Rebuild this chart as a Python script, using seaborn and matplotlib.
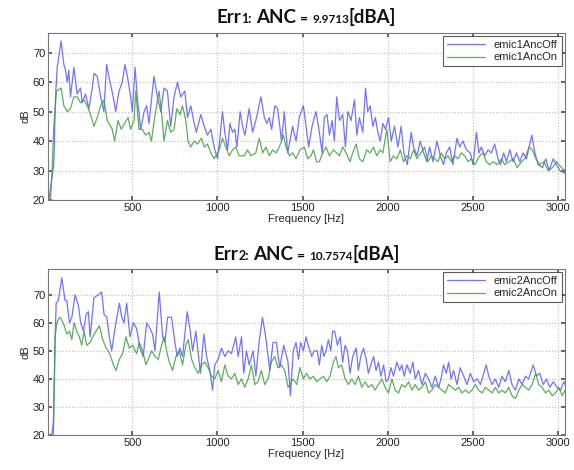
import matplotlib
matplotlib.use("Agg")
from matplotlib import pyplot as plt
import numpy as np
import seaborn as sns
import pandas as pd

# (frequency [Hz], level [dB])
off1 = [(10,20),(20,24),(29,28),(39,32),(49,55),(59,65),(82,74),(98,66),(108,64),(118,60),
        (127,64),(137,55),(157,65),(176,56),(196,58),(206,53),(225,56),(245,51),(265,58),(275,63),
        (294,62),(314,55),(333,50),(349,66),(369,60),(388,55),(402,50),(422,57),(441,60),(457,66),
        (471,62),(490,55),(500,50),(516,65),(529,55),(549,44),(569,50),(584,52),(598,46),(627,62),
        (647,55),(667,50),(686,58),(706,57),(725,45),(745,55),(765,60),(784,55),(808,57),(824,48),
        (843,52),(863,46),(876,43),(902,49),(922,45),(941,42),(961,44),(980,38),(1000,34),(1016,42),
        (1029,50),(1043,43),(1059,37),(1073,46),(1088,43),(1102,44),(1114,38),(1133,50),(1147,45),(1161,42),
        (1186,51),(1206,43),(1225,47),(1255,55),(1275,48),(1290,46),(1304,48),(1318,44),(1337,52),(1353,51),
        (1376,40),(1392,50),(1412,36),(1441,45),(1461,40),(1480,48),(1504,52),(1520,45),(1535,38),(1555,45),
        (1578,50),(1598,43),(1614,36),(1627,48),(1643,49),(1657,42),(1673,47),(1686,40),(1700,55),(1716,47),
        (1735,49),(1751,38),(1765,50),(1784,47),(1804,54),(1818,42),(1833,48),(1853,43),(1869,58),(1882,50),
        (1896,52),(1912,45),(1927,48),(1941,43),(1955,40),(1971,46),(1986,44),(2004,48),(2020,40),(2039,45),
        (2059,38),(2078,45),(2094,36),(2114,32),(2137,43),(2151,38),(2171,35),(2190,40),(2210,36),(2229,33),
        (2245,38),(2265,33),(2288,40),(2308,35),(2327,32),(2343,36),(2363,38),(2382,32),(2406,41),(2422,38),
        (2441,40),(2461,37),(2484,36),(2500,32),(2520,43),(2535,36),(2549,38),(2569,35),(2588,37),(2608,36),
        (2627,39),(2647,34),(2661,32),(2680,36),(2696,33),(2716,37),(2735,33),(2755,36),(2775,33),(2794,36),
        (2814,34),(2845,42),(2863,36),(2882,32),(2908,31),(2927,34),(2947,30),(2971,34),(2990,32),(3010,30),
        (3039,29)]

on1 = [(20,20),(29,30),(39,45),(55,57),(82,58),(98,52),(118,50),(137,51),(157,55),(176,55),
       (196,53),(216,54),(235,52),(255,49),(275,45),(294,48),(314,52),(333,54),(353,47),(382,44),
       (396,40),(416,47),(435,44),(455,46),(475,48),(490,44),(510,47),(520,57),(539,44),(559,44),
       (578,42),(598,43),(612,40),(631,48),(657,57),(671,50),(686,40),(706,47),(725,43),(745,44),
       (761,51),(780,49),(794,52),(814,47),(827,40),(843,38),(863,40),(882,39),(906,41),(922,38),
       (941,39),(961,36),(980,34),(1010,37),(1029,41),(1049,38),(1069,35),(1088,37),(1108,38),(1127,35),
       (1157,35),(1176,37),(1196,35),(1225,36),(1245,41),(1265,36),(1284,38),(1304,35),(1324,37),(1343,36),
       (1363,38),(1388,42),(1402,38),(1422,35),(1441,36),(1461,34),(1484,37),(1510,38),(1529,34),(1549,35),
       (1563,37),(1582,33),(1598,33),(1618,36),(1637,38),(1657,35),(1680,37),(1700,36),(1716,35),(1735,38),
       (1755,36),(1778,33),(1794,36),(1814,39),(1833,34),(1853,33),(1876,37),(1896,36),(1916,38),(1935,35),
       (1955,37),(1971,36),(1994,44),(2014,33),(2033,35),(2053,34),(2073,37),(2092,33),(2112,35),(2131,34),
       (2151,37),(2171,34),(2194,36),(2216,38),(2235,33),(2255,35),(2275,34),(2294,33),(2314,36),(2333,34),
       (2353,35),(2373,33),(2392,35),(2412,34),(2431,36),(2451,35),(2471,33),(2490,34),(2510,32),(2539,35),
       (2559,36),(2578,33),(2598,32),(2618,33),(2641,32),(2667,34),(2686,32),(2712,33),(2735,34),(2759,31),
       (2784,33),(2804,34),(2829,38),(2849,37),(2869,34),(2892,32),(2916,33),(2941,30),(2967,31),(2990,33),
       (3020,31),(3039,30)]

off2 = [(27,20),(37,25),(47,55),(53,67),(66,68),(86,76),(105,68),(115,68),(131,60),(145,62),
        (164,70),(184,66),(197,60),(213,57),(229,63),(242,64),(252,55),(275,69),(301,70),(320,71),
        (334,63),(350,62),(365,55),(379,50),(398,58),(424,67),(438,62),(451,60),(467,67),(486,55),
        (506,60),(525,58),(545,51),(564,48),(584,60),(604,58),(619,56),(633,50),(658,71),(678,55),
        (691,53),(707,62),(730,62),(750,53),(764,48),(779,51),(795,48),(822,64),(838,58),(854,50),
        (873,57),(887,49),(900,42),(920,56),(936,48),(955,43),(971,36),(984,45),(1004,47),(1023,51),
        (1043,48),(1063,50),(1082,49),(1107,55),(1121,48),(1141,55),(1154,42),(1170,50),(1186,45),(1209,50),
        (1225,41),(1244,53),(1264,62),(1283,55),(1307,43),(1326,53),(1346,53),(1365,44),(1389,52),(1414,46),
        (1428,34),(1445,50),(1461,53),(1475,47),(1488,53),(1504,50),(1520,55),(1533,52),(1553,48),(1567,50),
        (1586,50),(1598,45),(1612,52),(1625,48),(1637,50),(1651,54),(1665,50),(1676,57),(1688,57),(1704,52),
        (1720,55),(1735,46),(1749,52),(1763,50),(1778,42),(1794,48),(1814,51),(1827,43),(1841,48),(1857,51),
        (1873,47),(1886,42),(1900,45),(1916,48),(1931,43),(1945,46),(1959,41),(1975,45),(1990,39),(2004,40),
        (2018,44),(2033,41),(2053,46),(2069,43),(2082,45),(2096,41),(2112,45),(2131,42),(2147,46),(2161,40),
        (2180,43),(2200,38),(2220,42),(2239,40),(2259,37),(2278,41),(2298,37),(2312,40),(2327,45),(2343,42),
        (2357,46),(2371,40),(2386,43),(2406,38),(2425,44),(2445,41),(2465,38),(2484,42),(2504,39),(2524,40),
        (2543,38),(2563,42),(2578,45),(2592,41),(2612,38),(2631,40),(2651,37),(2670,41),(2690,39),(2710,43),
        (2729,38),(2749,36),(2769,40),(2788,38),(2808,41),(2827,40),(2853,45),(2873,41),(2892,42),(2912,38),
        (2931,40),(2951,37),(2971,39),(2994,37),(3014,36),(3033,39),(3049,37)]

on2 = [(37,20),(41,35),(47,55),(57,60),(72,62),(86,61),(100,59),(115,56),(131,57),(145,54),
       (158,60),(174,57),(189,55),(203,52),(217,57),(232,52),(252,53),(268,55),(287,57),(307,59),
       (326,54),(346,51),(359,50),(373,48),(389,45),(404,43),(424,47),(443,49),(463,55),(482,51),
       (502,52),(525,49),(541,53),(561,50),(580,45),(594,47),(613,50),(633,48),(652,47),(672,52),
       (686,55),(701,50),(717,46),(736,43),(756,48),(775,50),(795,45),(814,52),(828,54),(848,47),
       (867,44),(887,42),(906,45),(926,46),(945,44),(965,41),(984,40),(1004,43),(1023,39),(1043,45),
       (1063,41),(1082,40),(1102,42),(1121,38),(1141,40),(1160,37),(1180,40),(1199,45),(1219,38),(1238,39),
       (1258,43),(1277,38),(1297,40),(1316,46),(1336,48),(1355,44),(1375,45),(1395,43),(1414,37),(1445,40),
       (1465,38),(1484,44),(1504,40),(1523,42),(1543,40),(1563,41),(1582,39),(1602,40),(1622,41),(1641,39),
       (1661,41),(1680,46),(1696,48),(1710,44),(1729,45),(1749,40),(1769,38),(1788,40),(1808,38),(1827,41),
       (1847,37),(1867,39),(1886,37),(1906,38),(1925,36),(1945,38),(1965,40),(1984,37),(2004,35),(2024,40),
       (2043,36),(2063,35),(2082,38),(2102,37),(2122,39),(2141,36),(2161,38),(2180,36),(2200,37),(2220,39),
       (2239,35),(2259,36),(2278,38),(2298,37),(2318,36),(2337,35),(2357,38),(2376,37),(2396,36),(2416,37),
       (2435,35),(2455,36),(2475,35),(2494,36),(2514,38),(2533,36),(2553,35),(2573,37),(2592,36),(2612,35),
       (2631,37),(2651,35),(2671,36),(2690,35),(2710,37),(2729,34),(2749,33),(2769,36),(2788,38),(2808,37),
       (2827,36),(2847,38),(2867,42),(2886,38),(2906,37),(2925,35),(2945,36),(2965,34),(2984,35),(3004,37),
       (3024,34),(3049,37)]

titles = [("Err", "1:", "9.9713"), ("Err", "2:", "10.7574")]
legend_labels = [("emic1AncOff", "emic1AncOn"), ("emic2AncOff", "emic2AncOn")]
x_ticks = [500, 1000, 1500, 2000, 2500, 3000]
y_ticks = [20, 30, 40, 50, 60, 70]
y_tops = [76.7, 79.2]

blue = "#5a5aff"
green = "#40a040"

sns.set_theme(style="white")
plt.rcParams['font.family'] = ['Liberation Sans', 'DejaVu Sans']

fig = plt.figure(figsize=(5.74, 4.70), dpi=100)
ax1 = fig.add_axes([48/574, 1-200/470, 517/574, 167/470])
ax2 = fig.add_axes([48/574, 1-435/470, 517/574, 166/470])


def to_frame(pts):
    f, v = zip(*pts)
    return pd.DataFrame({"f": f, "db": v})


def mixed_title(ax, parts, y_px):
    '''draws title made of bold pieces with different sizes, centered over ax'''
    renderer = fig.canvas.get_renderer()
    pieces = []
    for s, size, gap in parts:
        t = fig.text(0, 1 - y_px/470, s, fontsize=size, fontweight='bold',
                     family=['Lato', 'DejaVu Sans'], va='baseline', color='#111111')
        pieces.append((t, gap))
    widths = [t.get_window_extent(renderer).width for t, g in pieces]
    total = sum(widths) + sum(g for t, g in pieces)
    pos = ax.get_position()
    cx = (pos.x0 + pos.width/2) * 574
    x = cx - total/2
    for (t, gap), w in zip(pieces, widths):
        t.set_x(x/574)
        x += w + gap


for ax, off, on, labels, ttl, ytop, ty in zip([ax1, ax2], [off1, off2], [on1, on2],
                                              legend_labels, titles, y_tops, [23, 260]):
    sns.lineplot(data=to_frame(off), x="f", y="db", ax=ax, color=blue, lw=0.9,
                 alpha=0.85, label=labels[0])
    sns.lineplot(data=to_frame(on), x="f", y="db", ax=ax, color=green, lw=0.9,
                 alpha=0.85, label=labels[1])
    ax.set_xlim(5, 3040)
    ax.set_ylim(20, ytop)
    ax.set_xticks(x_ticks)
    ax.set_yticks(y_ticks)
    ax.tick_params(labelsize=8, length=3, direction='in', color='#555555', pad=2,
                   top=True, right=True, bottom=True, left=True, labelcolor='#222222')
    ax.grid(True, ls=':', color='#bbbbbb', lw=0.8)
    for s in ax.spines.values():
        s.set_color('#777777')
        s.set_linewidth(0.8)
    ax.set_xlabel("Frequency [Hz]", fontsize=8, labelpad=1)
    ax.set_ylabel("dB", fontsize=8, labelpad=2)
    leg = ax.legend(loc='upper right', fontsize=8, frameon=True, fancybox=False,
                    borderaxespad=0.3, handlelength=3.4, borderpad=0.35, labelspacing=0.2)
    leg.get_frame().set_edgecolor('#333333')
    leg.get_frame().set_linewidth(0.8)
    mixed_title(ax, [(ttl[0], 13.5, 0), (ttl[1], 9, 4), ("ANC", 13.5, 4), ("=", 10, 4),
                     (ttl[2], 8.5, 0), ("[dBA]", 13.5, 0)], ty)

plt.savefig("out.png", dpi=100)
